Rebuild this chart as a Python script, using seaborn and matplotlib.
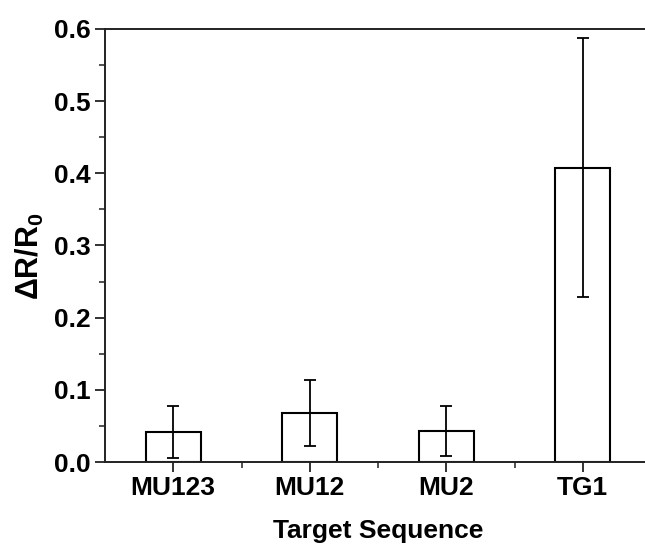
import matplotlib
matplotlib.use("Agg")
import matplotlib.pyplot as plt
import seaborn as sns
import pandas as pd
from matplotlib.ticker import MultipleLocator

categories = ["MU123", "MU12", "MU2", "TG1"]
values = [0.041, 0.068, 0.043, 0.408]
errors = [0.036, 0.046, 0.035, 0.179]
y_ticks = [0.0, 0.1, 0.2, 0.3, 0.4, 0.5, 0.6]

sns.set_theme(style="ticks")
plt.rcParams["font.family"] = ["Liberation Sans", "DejaVu Sans"]
plt.rcParams["font.weight"] = "bold"
plt.rcParams["text.color"] = "black"
plt.rcParams["axes.labelcolor"] = "black"
plt.rcParams["xtick.color"] = "black"
plt.rcParams["ytick.color"] = "black"
plt.rcParams["mathtext.fontset"] = "custom"
plt.rcParams["mathtext.rm"] = "Liberation Sans:bold"
plt.rcParams["mathtext.it"] = "Liberation Sans:bold"
plt.rcParams["mathtext.bf"] = "Liberation Sans:bold"

df = pd.DataFrame({"Target Sequence": categories, "value": values})

fig = plt.figure(figsize=(6.45, 5.44), dpi=100)
ax = fig.add_axes([105 / 645, 82 / 544, 546 / 645, 433 / 544])

sns.barplot(data=df, x="Target Sequence", y="value", color="white",
            edgecolor="black", linewidth=1.5, width=0.4, errorbar=None,
            saturation=1, ax=ax)
ax.errorbar(categories, values, yerr=errors, fmt="none", ecolor="black",
            elinewidth=1.3, capsize=4, capthick=1.3)

ax.set_xlim(-0.5, 3.5)
ax.set_ylim(0, 0.6)
ax.set_yticks(y_ticks)
ax.set_yticklabels([f"{t:.1f}" for t in y_ticks])
ax.yaxis.set_minor_locator(MultipleLocator(0.05))
ax.set_xticks(range(len(categories)))
ax.set_xticks([0.5, 1.5, 2.5], minor=True)

for s in ["left", "bottom", "top"]:
    ax.spines[s].set_visible(True)
    ax.spines[s].set_color("#222222")
    ax.spines[s].set_linewidth(1.4)
ax.spines["right"].set_visible(False)

ax.tick_params(axis="both", which="major", direction="out", length=7,
               width=1.3, color="#222222", labelsize=19, pad=3,
               labelcolor="black")
ax.tick_params(axis="both", which="minor", direction="out", length=4,
               width=1.1, color="#222222")
for lbl in ax.get_xticklabels() + ax.get_yticklabels():
    lbl.set_fontweight("bold")

ax.set_xlabel("Target Sequence", fontsize=19, fontweight="bold", labelpad=14,
              color="black")
ax.set_ylabel("ΔR/R$_0$", fontsize=22, fontweight="bold", labelpad=6,
              color="black")
ax.yaxis.set_label_coords(-0.108, 0.475)

fig.savefig("out.png", dpi=100)
